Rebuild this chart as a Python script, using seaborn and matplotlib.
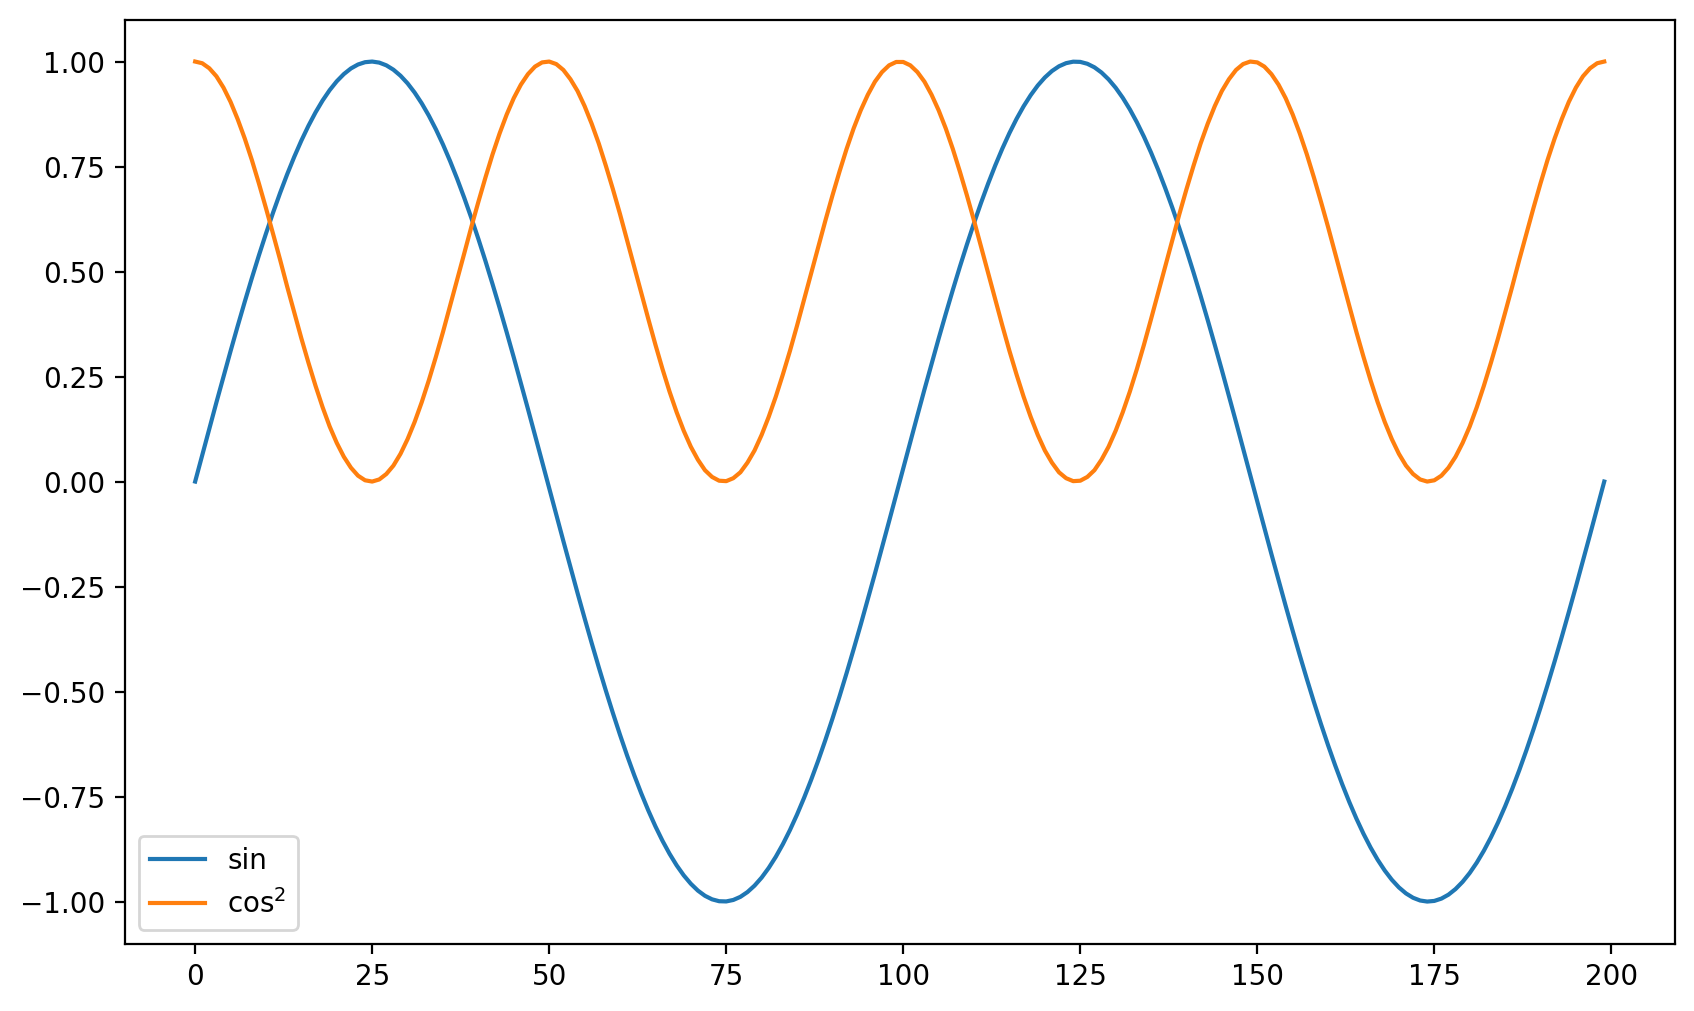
import pandas as pd
import seaborn as sns
import matplotlib.pyplot as plt

# values (200 samples, first half then mirrored half)
sin_first = [
    0.0000, 0.0631, 0.1260, 0.1883, 0.2499, 0.3105, 0.3699, 0.4278, 0.4840, 0.5383,
    0.5904, 0.6401, 0.6873, 0.7318, 0.7733, 0.8118, 0.8470, 0.8789, 0.9073, 0.9320,
    0.9530, 0.9702, 0.9836, 0.9930, 0.9985, 1.0000, 0.9975, 0.9910, 0.9806, 0.9663,
    0.9481, 0.9261, 0.9005, 0.8713, 0.8386, 0.8025, 0.7632, 0.7209, 0.6757, 0.6279,
    0.5776, 0.5250, 0.4701, 0.4135, 0.3552, 0.2955, 0.2346, 0.1728, 0.1103, 0.0473,
    -0.0158, -0.0789, -0.1416, -0.2038, -0.2652, -0.3254, -0.3845, -0.4420, -0.4977, -0.5514,
    -0.6029, -0.6522, -0.6986, -0.7424, -0.7832, -0.8209, -0.8553, -0.8863, -0.9138, -0.9376,
    -0.9576, -0.9739, -0.9863, -0.9947, -0.9992, -0.9997, -0.9962, -0.9888, -0.9774, -0.9621,
    -0.9430, -0.9200, -0.8935, -0.8634, -0.8298, -0.7929, -0.7529, -0.7099, -0.6641, -0.6156,
    -0.5647, -0.5115, -0.4561, -0.3990, -0.3404, -0.2803, -0.2193, -0.1572, -0.0946, -0.0316,
]
sin_second = [
    0.0316, 0.0946, 0.1572, 0.2193, 0.2803, 0.3404, 0.3990, 0.4561, 0.5115, 0.5647,
    0.6156, 0.6641, 0.7099, 0.7529, 0.7929, 0.8298, 0.8634, 0.8935, 0.9200, 0.9430,
    0.9621, 0.9774, 0.9888, 0.9962, 0.9997, 0.9992, 0.9947, 0.9863, 0.9739, 0.9576,
    0.9376, 0.9138, 0.8863, 0.8553, 0.8209, 0.7832, 0.7424, 0.6986, 0.6522, 0.6029,
    0.5514, 0.4977, 0.4420, 0.3845, 0.3254, 0.2652, 0.2038, 0.1416, 0.0789, 0.0158,
    -0.0473, -0.1103, -0.1728, -0.2346, -0.2955, -0.3552, -0.4135, -0.4701, -0.5250, -0.5776,
    -0.6279, -0.6757, -0.7209, -0.7632, -0.8025, -0.8386, -0.8713, -0.9005, -0.9261, -0.9481,
    -0.9663, -0.9806, -0.9910, -0.9975, -1.0000, -0.9985, -0.9930, -0.9836, -0.9702, -0.9530,
    -0.9320, -0.9073, -0.8789, -0.8470, -0.8118, -0.7733, -0.7318, -0.6873, -0.6401, -0.5904,
    -0.5383, -0.4840, -0.4278, -0.3699, -0.3105, -0.2499, -0.1883, -0.1260, -0.0631, 0.0000,
]
cos2_first = [
    1.000, 0.996, 0.984, 0.965, 0.938, 0.904, 0.863, 0.817, 0.766, 0.710,
    0.651, 0.590, 0.528, 0.464, 0.402, 0.341, 0.283, 0.228, 0.177, 0.131,
    0.092, 0.059, 0.033, 0.014, 0.003, 0.000, 0.005, 0.018, 0.038, 0.066,
    0.101, 0.142, 0.189, 0.241, 0.297, 0.356, 0.418, 0.480, 0.543, 0.606,
    0.666, 0.724, 0.779, 0.829, 0.874, 0.913, 0.945, 0.970, 0.988, 0.998,
    1.000, 0.994, 0.980, 0.958, 0.930, 0.894, 0.852, 0.805, 0.752, 0.696,
    0.637, 0.575, 0.512, 0.449, 0.387, 0.326, 0.268, 0.214, 0.165, 0.121,
    0.083, 0.052, 0.027, 0.011, 0.002, 0.001, 0.008, 0.022, 0.045, 0.074,
    0.111, 0.154, 0.202, 0.255, 0.311, 0.371, 0.433, 0.496, 0.559, 0.621,
    0.681, 0.738, 0.792, 0.841, 0.884, 0.921, 0.952, 0.975, 0.991, 0.999,
]
cos2_second = [
    0.999, 0.991, 0.975, 0.952, 0.921, 0.884, 0.841, 0.792, 0.738, 0.681,
    0.621, 0.559, 0.496, 0.433, 0.371, 0.311, 0.255, 0.202, 0.154, 0.111,
    0.074, 0.045, 0.022, 0.008, 0.001, 0.002, 0.011, 0.027, 0.052, 0.083,
    0.121, 0.165, 0.214, 0.268, 0.326, 0.387, 0.449, 0.512, 0.575, 0.637,
    0.696, 0.752, 0.805, 0.852, 0.894, 0.930, 0.958, 0.980, 0.994, 1.000,
    0.998, 0.988, 0.970, 0.945, 0.913, 0.874, 0.829, 0.779, 0.724, 0.666,
    0.606, 0.543, 0.480, 0.418, 0.356, 0.297, 0.241, 0.189, 0.142, 0.101,
    0.066, 0.038, 0.018, 0.005, 0.000, 0.003, 0.014, 0.033, 0.059, 0.092,
    0.131, 0.177, 0.228, 0.283, 0.341, 0.402, 0.464, 0.528, 0.590, 0.651,
    0.710, 0.766, 0.817, 0.863, 0.904, 0.938, 0.965, 0.984, 0.996, 1.000,
]

sin_vals = sin_first + sin_second
cos2_vals = cos2_first + cos2_second
data = pd.DataFrame({"sin": sin_vals, "cos2": cos2_vals})

fig, ax = plt.subplots(figsize=(10, 6))
sns.lineplot(x=data.index, y=data["sin"], ax=ax, label="sin", color="#1f77b4")
sns.lineplot(x=data.index, y=data["cos2"], ax=ax, label="cos$^2$", color="#ff7f0e")
ax.set_xlabel("")
ax.set_ylabel("")
ax.legend(loc="lower left")
plt.savefig("out.png", dpi=200, bbox_inches="tight")
